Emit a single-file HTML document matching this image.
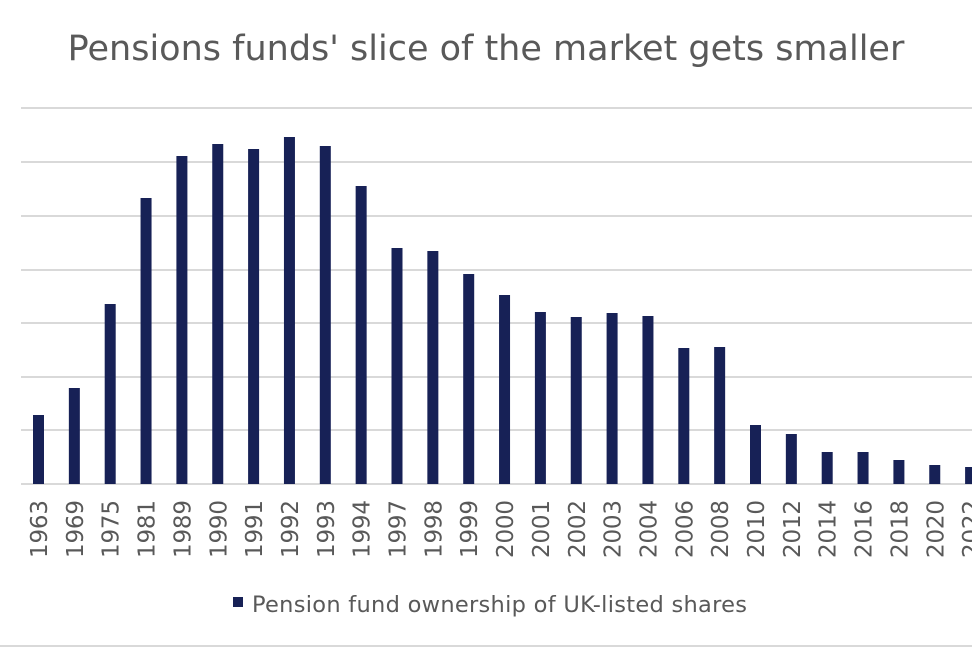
<!DOCTYPE html>
<html><head><style>
body{margin:0;background:#fff;}
svg{display:block;font-family:"DejaVu Sans","Liberation Sans",sans-serif;}
</style></head><body>
<svg width="972" height="648" viewBox="0 0 972 648">
<text x="486" y="60" text-anchor="middle" font-size="35" fill="#595959">Pensions funds' slice of the market gets smaller</text>
<g stroke="#d9d9d9" stroke-width="2">
<line x1="21" x2="972" y1="108" y2="108"/><line x1="21" x2="972" y1="162" y2="162"/>
<line x1="21" x2="972" y1="216" y2="216"/><line x1="21" x2="972" y1="270" y2="270"/>
<line x1="21" x2="972" y1="323" y2="323"/><line x1="21" x2="972" y1="377" y2="377"/>
<line x1="21" x2="972" y1="430" y2="430"/><line x1="21" x2="972" y1="484" y2="484"/>
</g>
<line x1="0" x2="972" y1="646" y2="646" stroke="#d9d9d9" stroke-width="2"/>
<g fill="#172156">
<rect x="33" y="415" width="11" height="69"/>
<rect x="68.85" y="388" width="11" height="96"/>
<rect x="104.7" y="304" width="11" height="180"/>
<rect x="140.55" y="198" width="11" height="286"/>
<rect x="176.4" y="156" width="11" height="328"/>
<rect x="212.25" y="144" width="11" height="340"/>
<rect x="248.1" y="149" width="11" height="335"/>
<rect x="283.95" y="137" width="11" height="347"/>
<rect x="319.8" y="146" width="11" height="338"/>
<rect x="355.65" y="186" width="11" height="298"/>
<rect x="391.5" y="248" width="11" height="236"/>
<rect x="427.35" y="251" width="11" height="233"/>
<rect x="463.2" y="274" width="11" height="210"/>
<rect x="499.05" y="295" width="11" height="189"/>
<rect x="534.9" y="312" width="11" height="172"/>
<rect x="570.75" y="317" width="11" height="167"/>
<rect x="606.6" y="313" width="11" height="171"/>
<rect x="642.45" y="316" width="11" height="168"/>
<rect x="678.3" y="348" width="11" height="136"/>
<rect x="714.15" y="347" width="11" height="137"/>
<rect x="750" y="425" width="11" height="59"/>
<rect x="785.85" y="434" width="11" height="50"/>
<rect x="821.7" y="452" width="11" height="32"/>
<rect x="857.55" y="452" width="11" height="32"/>
<rect x="893.4" y="460" width="11" height="24"/>
<rect x="929.25" y="465" width="11" height="19"/>
<rect x="965.1" y="467" width="11" height="17"/>
</g>
<g fill="#595959" font-size="23">
<text transform="translate(47,558) rotate(-90)" textLength="58">1963</text>
<text transform="translate(82.85,558) rotate(-90)" textLength="58">1969</text>
<text transform="translate(118.7,558) rotate(-90)" textLength="58">1975</text>
<text transform="translate(154.55,558) rotate(-90)" textLength="58">1981</text>
<text transform="translate(190.4,558) rotate(-90)" textLength="58">1989</text>
<text transform="translate(226.25,558) rotate(-90)" textLength="58">1990</text>
<text transform="translate(262.1,558) rotate(-90)" textLength="58">1991</text>
<text transform="translate(297.95,558) rotate(-90)" textLength="58">1992</text>
<text transform="translate(333.8,558) rotate(-90)" textLength="58">1993</text>
<text transform="translate(369.65,558) rotate(-90)" textLength="58">1994</text>
<text transform="translate(405.5,558) rotate(-90)" textLength="58">1997</text>
<text transform="translate(441.35,558) rotate(-90)" textLength="58">1998</text>
<text transform="translate(477.2,558) rotate(-90)" textLength="58">1999</text>
<text transform="translate(513.05,558) rotate(-90)" textLength="58">2000</text>
<text transform="translate(548.9,558) rotate(-90)" textLength="58">2001</text>
<text transform="translate(584.75,558) rotate(-90)" textLength="58">2002</text>
<text transform="translate(620.6,558) rotate(-90)" textLength="58">2003</text>
<text transform="translate(656.45,558) rotate(-90)" textLength="58">2004</text>
<text transform="translate(692.3,558) rotate(-90)" textLength="58">2006</text>
<text transform="translate(728.15,558) rotate(-90)" textLength="58">2008</text>
<text transform="translate(764,558) rotate(-90)" textLength="58">2010</text>
<text transform="translate(799.85,558) rotate(-90)" textLength="58">2012</text>
<text transform="translate(835.7,558) rotate(-90)" textLength="58">2014</text>
<text transform="translate(871.55,558) rotate(-90)" textLength="58">2016</text>
<text transform="translate(907.4,558) rotate(-90)" textLength="58">2018</text>
<text transform="translate(943.25,558) rotate(-90)" textLength="58">2020</text>
<text transform="translate(979.1,558) rotate(-90)" textLength="58">2022</text>
</g>
<rect x="233" y="597" width="10" height="10" fill="#172156"/>
<text x="252" y="612" font-size="22.5" fill="#595959" textLength="495">Pension fund ownership of UK-listed shares</text>
</svg>
</body></html>
